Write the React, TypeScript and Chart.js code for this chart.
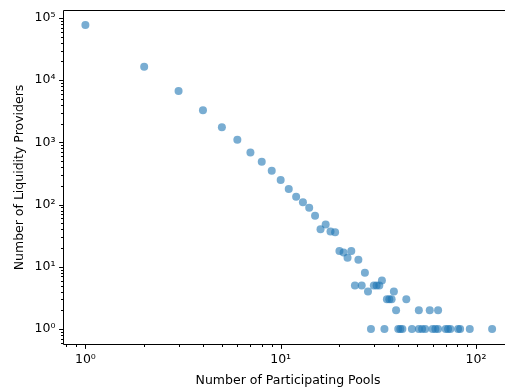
import React, { useEffect, useRef } from "react";
import { Chart, registerables } from "chart.js";

Chart.register(...registerables);

// Number of participating pools (x) and number of liquidity providers (y)
const pools: number[] = [
  1, 2, 3, 4, 5, 6, 7, 8, 9, 10,
  11, 12, 13, 14, 15, 16, 17, 18, 19, 20,
  21, 22, 23, 25, 27, 24, 26, 28, 30, 31,
  32, 33, 38, 35, 36, 37, 44, 39, 51, 58,
  64, 29, 34, 40, 41, 42, 47, 51, 53, 55,
  60, 62, 64, 70, 72, 74, 81, 83, 93, 121,
];
const providers: number[] = [
  77000, 16500, 6700, 3300, 1750, 1100, 690, 490, 350, 248,
  178, 134, 109, 89, 66, 40, 48, 37, 36, 18,
  17, 14, 18, 13, 8, 5, 5, 4, 5, 5,
  5, 6, 4, 3, 3, 3, 3, 2, 2, 2,
  2, 1, 1, 1, 1, 1, 1, 1, 1, 1,
  1, 1, 1, 1, 1, 1, 1, 1, 1, 1,
];

const xTitle = "Number of Participating Pools";
const yTitle = "Number of Liquidity Providers";
const xRange = [0.777, 153];
const yRange = [0.574, 129600];

const SUP = ["⁰", "¹", "²", "³", "⁴", "⁵", "⁶"];
const FONT = "'DejaVu Sans', sans-serif";
const FS = 12.5;

function decadeLabel(v: number): string {
  const l = Math.log10(v);
  const r = Math.round(l);
  if (Math.abs(l - r) < 1e-9) {
    return "10" + (r < 0 ? "⁻" + SUP[-r] : SUP[r]);
  }
  return "";
}

const framePlugin = {
  id: "frame",
  afterDraw(chart: any) {
    const { ctx, chartArea } = chart;
    const xs = chart.scales.x;
    const ys = chart.scales.y;
    const { left, right, top, bottom } = chartArea;
    ctx.save();
    ctx.strokeStyle = "#000";
    ctx.lineWidth = 1;
    ctx.beginPath();
    const L = Math.round(left) - 0.5;
    const B = Math.round(bottom) + 0.5;
    const T = Math.round(top) - 0.5;
    ctx.moveTo(L, T);
    ctx.lineTo(right, T);
    ctx.moveTo(L, T);
    ctx.lineTo(L, B);
    ctx.lineTo(right, B);
    ctx.stroke();
    // ticks
    ctx.beginPath();
    const drawTicks = (min: number, max: number, fn: (v: number, len: number) => void) => {
      for (let e = Math.floor(Math.log10(min)); e <= Math.ceil(Math.log10(max)); e++) {
        for (let k = 1; k <= 9; k++) {
          const v = k * Math.pow(10, e);
          if (v < min || v > max) continue;
          fn(v, k === 1 ? 4.4 : 2.5);
        }
      }
    };
    drawTicks(xs.min, xs.max, (v, len) => {
      const px = Math.round(xs.getPixelForValue(v)) + 0.5;
      ctx.moveTo(px, B);
      ctx.lineTo(px, B + len);
    });
    drawTicks(ys.min, ys.max, (v, len) => {
      const py = Math.round(ys.getPixelForValue(v)) + 0.5;
      ctx.moveTo(L, py);
      ctx.lineTo(L - len, py);
    });
    ctx.stroke();
    ctx.restore();
  },
};

export default function App() {
  const ref = useRef<HTMLCanvasElement | null>(null);
  useEffect(() => {
    document.body.style.margin = "0";
    const canvas = ref.current;
    if (!canvas) return;
    const data = pools.map((x, i) => ({ x, y: providers[i] }));
    const chart = new Chart(canvas, {
      type: "scatter",
      data: {
        datasets: [
          {
            data,
            backgroundColor: "rgba(31,119,180,0.6)",
            borderWidth: 0,
            pointRadius: 4,
            pointHoverRadius: 4,
          },
        ],
      },
      options: {
        responsive: false,
        animation: false,
        devicePixelRatio: 1,
        layout: { autoPadding: false, padding: { left: 0, right: 0, top: 11, bottom: 0 } },
        plugins: { legend: { display: false }, tooltip: { enabled: false } },
        scales: {
          x: {
            type: "logarithmic",
            min: xRange[0],
            max: xRange[1],
            grid: { display: false, drawTicks: false },
            border: { display: false },
            ticks: {
              autoSkip: false,
              maxRotation: 0,
              minRotation: 0,
              padding: 8,
              color: "#000",
              font: { family: FONT, size: FS },
              callback: (v: any) => decadeLabel(Number(v)),
            },
            title: {
              display: true,
              text: xTitle,
              color: "#000",
              font: { family: FONT, size: FS },
              padding: { top: 0, bottom: 0 },
            },
            afterFit: (s: any) => {
              s.height = 44;
              s.paddingLeft = 0;
              s.paddingRight = 0;
            },
          },
          y: {
            type: "logarithmic",
            min: yRange[0],
            max: yRange[1],
            grid: { display: false, drawTicks: false },
            border: { display: false },
            ticks: {
              autoSkip: false,
              padding: 8.5,
              color: "#000",
              font: { family: FONT, size: FS },
              callback: (v: any) => decadeLabel(Number(v)),
            },
            title: {
              display: true,
              text: yTitle,
              color: "#000",
              font: { family: FONT, size: FS },
              padding: { top: 12, bottom: 0 },
            },
            afterFit: (s: any) => {
              s.width = 64;
              s.paddingTop = 0;
              s.paddingBottom = 0;
            },
          },
        },
      },
      plugins: [framePlugin],
    } as any);
    return () => chart.destroy();
  }, []);
  return (
    <div style={{ width: 505, height: 388, overflow: "hidden" }}>
      <canvas ref={ref} width={512} height={388} style={{ display: "block" }} />
    </div>
  );
}
